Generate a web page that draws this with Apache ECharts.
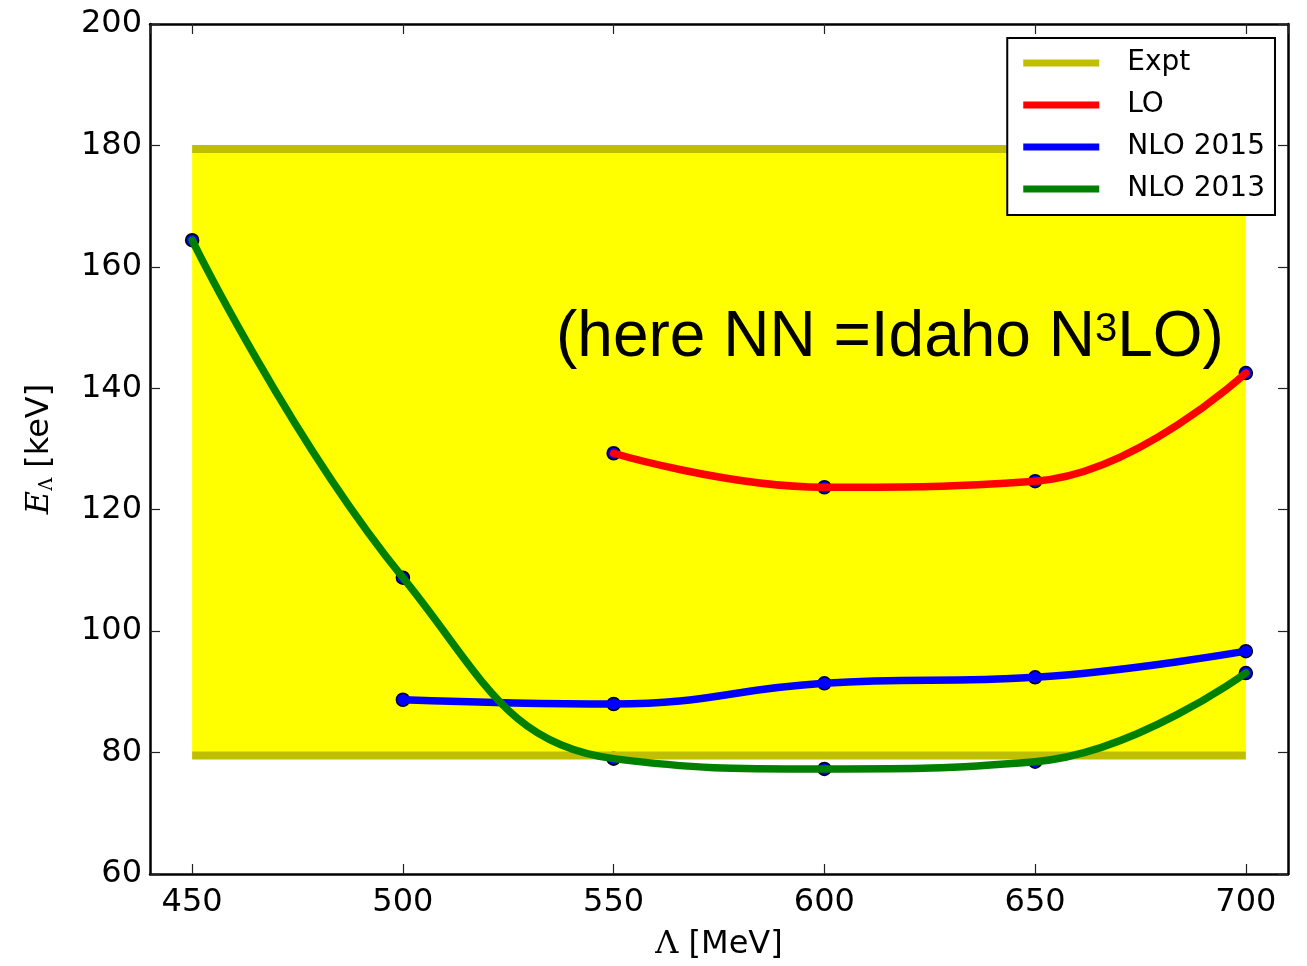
<!DOCTYPE html>
<html>
<head>
<meta charset="utf-8">
<script src="https://cdn.jsdelivr.net/npm/echarts@6/dist/echarts.min.js"></script>
<style>
html,body{margin:0;padding:0;background:#fff;}
#chart{width:1307px;height:966px;}
</style>
</head>
<body>
<div id="chart"></div>
<script>
// Cutoff values (MeV)
const lambdaLO = [550, 600, 650, 700];
const lambdaNLO2015 = [500, 550, 600, 650, 700];
const lambdaNLO2013 = [450, 500, 550, 600, 650, 700];
// E_Lambda values (keV)
const valuesLO = [129.3, 123.7, 124.7, 142.5];
const valuesNLO2015 = [88.7, 88.0, 91.4, 92.4, 96.7];
const valuesNLO2013 = [164.4, 108.8, 79.0, 77.3, 78.5, 93.1];
// Experimental band
const exptRange = [450, 700];
const exptUpper = 179.4;
const exptLower = 79.5;
const seriesNames = ['Expt', 'LO', 'NLO 2015', 'NLO 2013'];
const yTicks = [60, 80, 100, 120, 140, 160, 180, 200];

const pairs = (xs, ys) => xs.map((x, i) => [x, ys[i]]);

const chart = echarts.init(document.getElementById('chart'), null, {renderer: 'canvas'});

const tickFont = {fontFamily: 'DejaVu Sans', fontSize: 32, color: '#000'};
const axisLine = {show: true, onZero: false, lineStyle: {color: '#000', width: 2.5}};
const axisTick = {show: true, inside: true, length: 10, lineStyle: {color: '#222', width: 1.2}};

const xBase = {type: 'value', min: 440, max: 710, splitNumber: 5, splitLine: {show: false}, axisLine: axisLine, axisTick: axisTick};
const yBase = {type: 'value', min: yTicks[0], max: yTicks[yTicks.length - 1], interval: 20, splitLine: {show: false}, axisLine: axisLine, axisTick: axisTick};

const curve = (name, color, xs, ys) => ({
  name: name, type: 'line', data: pairs(xs, ys), smooth: 0.45, showSymbol: false,
  lineStyle: {color: color, width: 7.5, cap: 'round'}, itemStyle: {color: color}, z: 4, animation: false
});
const markers = (name, xs, ys) => ({
  name: name + ' pts', type: 'scatter', data: pairs(xs, ys), symbolSize: 13,
  itemStyle: {color: '#0000ff', borderColor: '#000', borderWidth: 1.5, opacity: 1}, z: 2, animation: false
});

chart.setOption({
  backgroundColor: '#fff',
  animation: false,
  grid: {left: 150, right: 19, top: 24, bottom: 89, containLabel: false},
  xAxis: [
    Object.assign({}, xBase, {
      position: 'bottom',
      axisLabel: Object.assign({margin: 13, showMinLabel: false, showMaxLabel: false,
        formatter: v => (v % 50 === 0 ? String(v) : '')}, tickFont),
      name: '{l|Λ} [MeV]', nameLocation: 'middle', nameGap: 55,
      nameTextStyle: {fontFamily: 'DejaVu Sans', fontSize: 32, color: '#000',
        rich: {l: {fontFamily: 'DejaVu Serif', fontSize: 32, color: '#000'}}}
    }),
    Object.assign({}, xBase, {position: 'top', axisLabel: {show: false}})
  ],
  yAxis: [
    Object.assign({}, yBase, {
      position: 'left',
      axisLabel: Object.assign({margin: 8}, tickFont),
      name: '{e|E}{s|Λ} [keV]', nameLocation: 'middle', nameGap: 94, nameRotate: 90,
      nameTextStyle: {fontFamily: 'DejaVu Sans', fontSize: 32, color: '#000',
        rich: {
          e: {fontFamily: 'DejaVu Serif', fontStyle: 'italic', fontSize: 32, color: '#000'},
          s: {fontFamily: 'DejaVu Serif', fontSize: 18, color: '#000', verticalAlign: 'bottom'}
        }}
    }),
    Object.assign({}, yBase, {position: 'right', axisLabel: {show: false}})
  ],
  legend: {
    data: seriesNames,
    orient: 'vertical', right: 32, top: 38,
    backgroundColor: '#fff', borderColor: '#000', borderWidth: 2, borderRadius: 0,
    padding: [11, 10, 12, 16], itemGap: 14, itemWidth: 76, itemHeight: 7, icon: 'rect',
    selectedMode: false,
    textStyle: {fontFamily: 'DejaVu Sans', fontSize: 28, color: '#000', lineHeight: 28, padding: [0, 0, 0, 23]}
  },
  graphic: [{
    type: 'text', left: 556, top: 306, z: 10,
    style: {
      text: '(here NN =Idaho N{sup|3}LO)',
      font: '64px "Liberation Sans"', fill: '#000',
      rich: {sup: {fontFamily: 'Liberation Sans', fontSize: 40, fill: '#000', verticalAlign: 'top', padding: [4, 0, 0, 0]}}
    }
  }],
  series: [
    {
      name: 'ExptBand', type: 'line', data: pairs(exptRange, [exptUpper, exptUpper]),
      showSymbol: false, lineStyle: {opacity: 0}, z: 1, silent: true,
      markArea: {silent: true, itemStyle: {color: '#ffff00', opacity: 1},
        data: [[{xAxis: exptRange[0], yAxis: exptLower}, {xAxis: exptRange[1], yAxis: exptUpper}]]}
    },
    markers('LO', lambdaLO, valuesLO),
    markers('NLO 2015', lambdaNLO2015, valuesNLO2015),
    markers('NLO 2013', lambdaNLO2013, valuesNLO2013),
    {name: 'Expt', type: 'line', data: pairs(exptRange, [exptUpper, exptUpper]), showSymbol: false,
      lineStyle: {color: '#bfbf00', width: 8}, itemStyle: {color: '#bfbf00'}, z: 3},
    {name: 'Expt', type: 'line', data: pairs(exptRange, [exptLower, exptLower]), showSymbol: false,
      lineStyle: {color: '#bfbf00', width: 8}, itemStyle: {color: '#bfbf00'}, z: 3},
    curve('LO', '#ff0000', lambdaLO, valuesLO),
    curve('NLO 2015', '#0000ff', lambdaNLO2015, valuesNLO2015),
    curve('NLO 2013', '#008000', lambdaNLO2013, valuesNLO2013)
  ]
});
</script>
</body>
</html>
